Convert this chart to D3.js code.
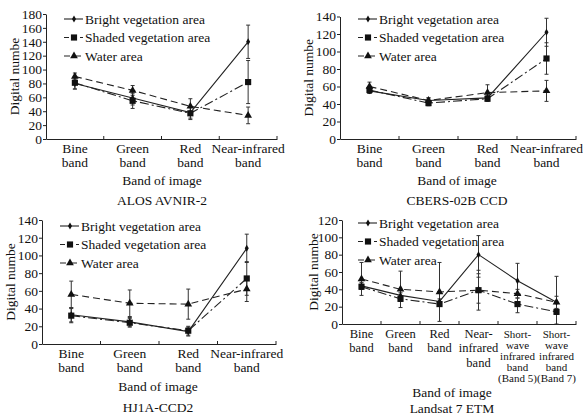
<!DOCTYPE html>
<html>
<head>
<meta charset="utf-8">
<script src="https://cdn.jsdelivr.net/npm/d3@7"></script>
<style>
  body { margin: 0; background: #fff; }
  svg text { font-family: "Liberation Serif", "Times New Roman", serif; fill: #111; }
</style>
</head>
<body>
<div id="chart"></div>
<script>
// tick labels (one entry per line)
const bandLabels4 = [["Bine", "band"], ["Green", "band"], ["Red", "band"], ["Near-infrared", "band"]];
const bandLabels6 = [["Bine", "band"], ["Green", "band"], ["Red", "band"], ["Near-", "infrared", "band"],
    ["Short-", "wave", "infrared", "band", "(Band 5)"], ["Short-", "wave", "infrared", "band", "(Band 7)"]];
const seriesNames = ["Bright vegetation area", "Shaded vegetation area", "Water area"];

// ALOS AVNIR-2
const alosBright = [80, 59, 38, 140], alosBrightErr = [8, 10, 8, 24];
const alosShaded = [81, 55, 37, 82], alosShadedErr = [9, 11, 9, 31];
const alosWater = [90, 70, 47, 34], alosWaterErr = [5, 7, 11, 12];

// CBERS-02B CCD
const cbersBright = [55, 44, 47, 122], cbersBrightErr = [3, 3, 3, 16];
const cbersShaded = [56, 41, 46, 92], cbersShadedErr = [4, 3, 3, 18];
const cbersWater = [60, 44, 53, 55], cbersWaterErr = [5, 3, 9, 12];

// HJ1A-CCD2
const hjBright = [33, 25, 14, 108], hjBrightErr = [8, 5, 5, 16];
const hjShaded = [32, 24, 15, 74], hjShadedErr = [8, 5, 5, 19];
const hjWater = [56, 46, 45, 62], hjWaterErr = [15, 15, 17, 14];

// Landsat 7 ETM
const etmBright = [44, 33, 26, 80, 50, 25], etmBrightErr = [4, 3, 3, 22, 20, 7];
const etmShaded = [43, 29, 23, 39, 23, 14], etmShadedErr = [3, 3, 2, 23, 10, 3];
const etmWater = [52, 40, 37, 39, 35, 25], etmWaterErr = [19, 21, 34, 15, 5, 30];

const svg = d3.select("#chart").append("svg")
    .attr("width", 583).attr("height", 417)
    .style("background", "#fff");

// line style per series: solid / dash-dot / dashed
const plotDash = [null, "9,3,2,3", "7,4"];
const legendDash = [null, "5,3", "6,2,1,2"];
const symbols = [d3.symbolDiamond, d3.symbolSquare, d3.symbolTriangle];
const symbolSize = [14, 38, 26];

function drawPanel(p) {
    const g = svg.append("g");
    const x = d3.scaleBand().domain(d3.range(p.labels.length)).range([p.x0, p.x1]);
    const y = d3.scaleLinear().domain([0, p.max]).range([p.yb, p.yt]).clamp(true);

    // y axis
    g.append("g")
        .attr("transform", `translate(${p.x0},0)`)
        .call(d3.axisLeft(y).tickValues(d3.range(0, p.max + 1, 20)).tickSize(3).tickSizeOuter(0).tickPadding(1))
        .call(a => a.selectAll("text").style("font-size", "13.5px").attr("fill", "#111"))
        .call(a => a.selectAll("line,path").attr("stroke", "#222"));

    // x axis: line plus ticks on band boundaries
    g.append("g")
        .attr("transform", `translate(0,${p.yb})`)
        .call(d3.axisBottom(x).tickSize(0).tickFormat(""))
        .call(a => a.select("path").attr("stroke", "#222"));
    g.selectAll(".bt").data(d3.range(1, p.labels.length + 1)).enter().append("line")
        .attr("x1", i => x(0) + i * x.step()).attr("x2", i => x(0) + i * x.step())
        .attr("y1", p.yb).attr("y2", p.yb - 3)
        .attr("stroke", "#222");

    // category labels
    p.labels.forEach((lines, i) => {
        const long = lines.length > 3;
        const t = g.append("text")
            .attr("text-anchor", "middle")
            .attr("x", x(i) + x.bandwidth() / 2)
            .attr("y", p.yb + 13.5)
            .style("font-size", long ? "11px" : p.labelSize);
        lines.forEach((s, k) => t.append("tspan")
            .attr("x", x(i) + x.bandwidth() / 2)
            .attr("dy", k === 0 ? 0 : (long ? 11 : 14.5))
            .text(s));
    });

    const cx = i => x(i) + x.bandwidth() / 2;

    // error bars
    p.series.forEach(s => {
        s.vals.forEach((v, i) => {
            const lo = y(v - s.err[i]), hi = y(v + s.err[i]);
            g.append("line").attr("x1", cx(i)).attr("x2", cx(i)).attr("y1", lo).attr("y2", hi)
                .attr("stroke", "#333").attr("stroke-width", 1);
            [lo, hi].forEach(yy => g.append("line")
                .attr("x1", cx(i) - 2).attr("x2", cx(i) + 2).attr("y1", yy).attr("y2", yy)
                .attr("stroke", "#333"));
        });
    });

    // lines and markers
    p.series.forEach((s, k) => {
        g.append("path")
            .datum(s.vals)
            .attr("fill", "none")
            .attr("stroke", "#222")
            .attr("stroke-width", 1.1)
            .attr("stroke-dasharray", plotDash[k])
            .attr("d", d3.line().x((d, i) => cx(i)).y(d => y(d)));
        g.selectAll(".m" + k).data(s.vals).enter().append("path")
            .attr("transform", (d, i) => `translate(${cx(i)},${y(d)})`)
            .attr("d", d3.symbol().type(symbols[k]).size(symbolSize[k]))
            .attr("fill", "#111");
    });

    // legend
    seriesNames.forEach((name, k) => {
        const ly = p.ly + k * 18.5;
        g.append("line")
            .attr("x1", p.lx).attr("x2", p.lx + 19).attr("y1", ly).attr("y2", ly)
            .attr("stroke", "#222").attr("stroke-width", 1.1)
            .attr("stroke-dasharray", legendDash[k]);
        g.append("path")
            .attr("transform", `translate(${p.lx + 10},${ly})`)
            .attr("d", d3.symbol().type(symbols[k]).size(symbolSize[k]))
            .attr("fill", "#111");
        g.append("text")
            .attr("x", p.lx + 21).attr("y", ly).attr("dy", "0.35em")
            .style("font-size", "13.5px")
            .text(name);
    });

    // axis titles and caption
    g.append("text")
        .attr("transform", `translate(${p.ytx},${(p.yt + p.yb) / 2}) rotate(-90)`)
        .attr("text-anchor", "middle").attr("dy", "0.35em")
        .style("font-size", "13.5px")
        .text("Digital numbe");
    g.append("text")
        .attr("x", p.tx).attr("y", p.titleY).attr("dy", "0.35em")
        .attr("text-anchor", "middle").style("font-size", "13.5px")
        .text("Band of image");
    g.append("text")
        .attr("x", p.tx).attr("y", p.capY).attr("dy", "0.35em")
        .attr("text-anchor", "middle").style("font-size", "13.5px")
        .text(p.caption);
}

drawPanel({
    x0: 46, x1: 277, yt: 14, yb: 139, max: 180, labels: bandLabels4, labelSize: "13.5px",
    lx: 64, ly: 19, ytx: 14, tx: 162, titleY: 180, capY: 200, caption: "ALOS AVNIR-2",
    series: [{ vals: alosBright, err: alosBrightErr }, { vals: alosShaded, err: alosShadedErr }, { vals: alosWater, err: alosWaterErr }]
});
drawPanel({
    x0: 340, x1: 576, yt: 16.5, yb: 139, max: 140, labels: bandLabels4, labelSize: "13.5px",
    lx: 358, ly: 19, ytx: 308, tx: 457, titleY: 180, capY: 200, caption: "CBERS-02B CCD",
    series: [{ vals: cbersBright, err: cbersBrightErr }, { vals: cbersShaded, err: cbersShadedErr }, { vals: cbersWater, err: cbersWaterErr }]
});
drawPanel({
    x0: 42, x1: 276, yt: 220, yb: 344, max: 140, labels: bandLabels4, labelSize: "13.5px",
    lx: 60, ly: 226, ytx: 10, tx: 158, titleY: 386, capY: 407, caption: "HJ1A-CCD2",
    series: [{ vals: hjBright, err: hjBrightErr }, { vals: hjShaded, err: hjShadedErr }, { vals: hjWater, err: hjWaterErr }]
});
drawPanel({
    x0: 342, x1: 576, yt: 220, yb: 324, max: 120, labels: bandLabels6, labelSize: "12.5px",
    lx: 358, ly: 223, ytx: 313, tx: 452, titleY: 392, capY: 408, caption: "Landsat 7 ETM",
    series: [{ vals: etmBright, err: etmBrightErr }, { vals: etmShaded, err: etmShadedErr }, { vals: etmWater, err: etmWaterErr }]
});
</script>
</body>
</html>
